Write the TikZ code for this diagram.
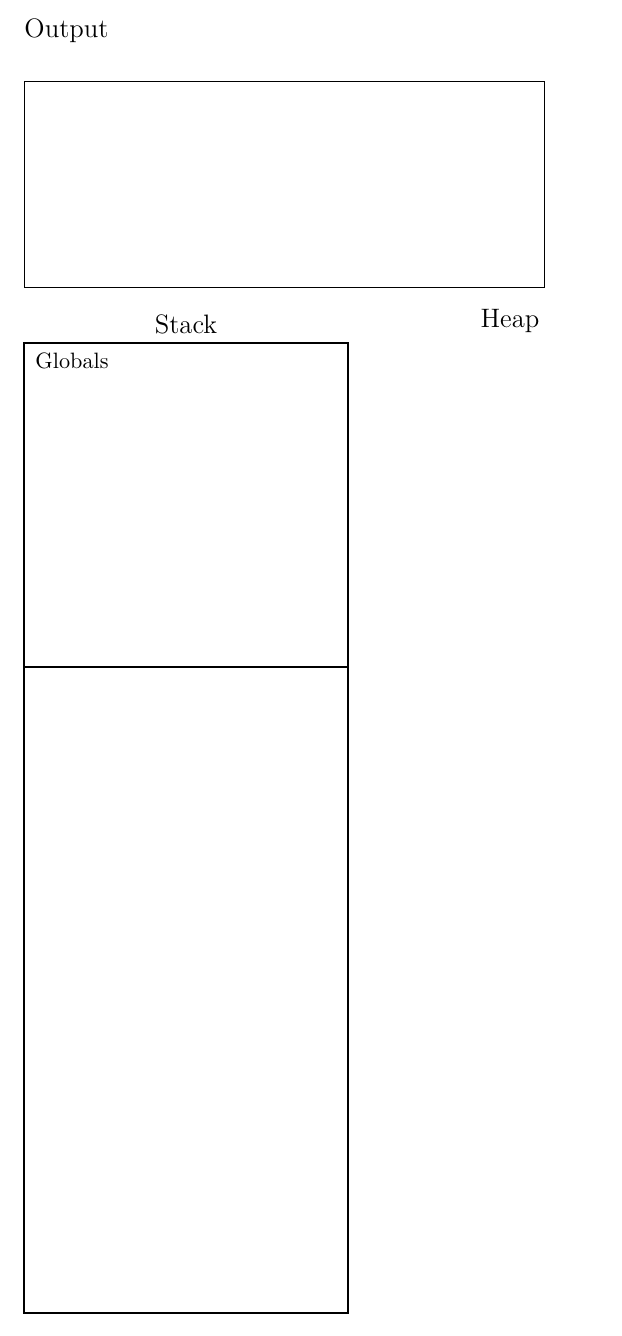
\documentclass[tikz,border=0pt]{standalone}
\begin{document}
\begin{tikzpicture}[x=0.45pt,y=-0.45pt,
  lbl/.style={inner sep=0pt,font=\large},
  thinbox/.style={draw,line width=0.4pt},
  stackbox/.style={draw,line width=0.8pt}]
\useasboundingbox (0,0) rectangle (622,1336);
\node[lbl,anchor=base west] (output) at (24,37) {Output};
\draw[thinbox] (24,81) rectangle (544,287);
\node[lbl,anchor=base] (stack) at (186,333) {Stack};
\node[lbl,anchor=base] (heap) at (510,327) {Heap};
\draw[stackbox] (24,343) rectangle (348,1313);
\draw[stackbox] (24,667) -- (348,667);
\node[inner sep=0pt,anchor=base west] (globals) at (35,368) {Globals};
\end{tikzpicture}
\end{document}
